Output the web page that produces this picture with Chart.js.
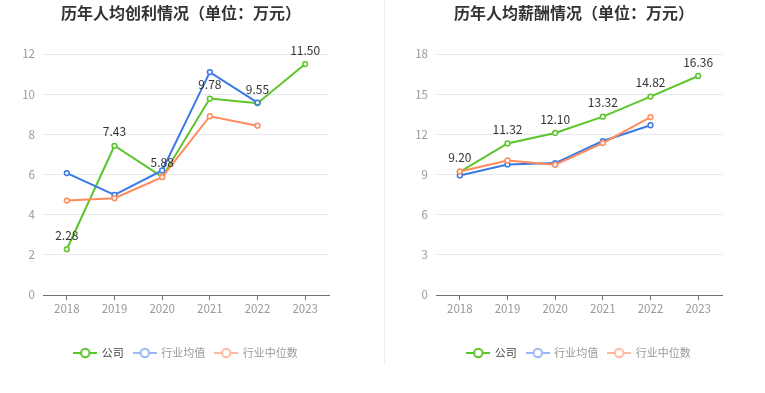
<!DOCTYPE html>
<html>
<head>
<meta charset="utf-8">
<script src="https://cdn.jsdelivr.net/npm/chart.js@4/dist/chart.umd.min.js"></script>
<style>
  html, body { margin: 0; padding: 0; background: #fff; }
  body { width: 765px; height: 393px; position: relative; overflow: hidden; font-family: "Noto Sans CJK SC", "Noto Sans", sans-serif; }
  .title { position: absolute; top: 0px; width: 300px; text-align: center; font-size: 16px; font-weight: bold; color: #333; line-height: 24px; white-space: nowrap; }
  .box { position: absolute; top: 0; width: 372px; height: 393px; }
  .divider { position: absolute; left: 384px; top: 0; width: 1px; height: 365px; background: #eeeeee; }
</style>
</head>
<body>
<div class="box" style="left:0"><canvas id="c1" width="372" height="393"></canvas></div>
<div class="box" style="left:393px"><canvas id="c2" width="372" height="393"></canvas></div>
<div class="divider"></div>
<div class="title" style="left:31px">历年人均创利情况（单位：万元）</div>
<div class="title" style="left:424px">历年人均薪酬情况（单位：万元）</div>
<script>
const years = ['2018', '2019', '2020', '2021', '2022', '2023'];
const seriesNames = ['公司', '行业均值', '行业中位数'];

// 历年人均创利
const profitCompany = [2.28, 7.43, 5.88, 9.78, 9.55, 11.50];
const profitIndustryAvg = [6.07, 4.98, 6.20, 11.10, 9.58, null];
const profitIndustryMedian = [4.70, 4.82, 5.87, 8.90, 8.43, null];
const profitTicks = { min: 0, max: 12, step: 2 };

// 历年人均薪酬
const salaryCompany = [9.20, 11.32, 12.10, 13.32, 14.82, 16.36];
const salaryIndustryAvg = [8.93, 9.75, 9.85, 11.50, 12.68, null];
const salaryIndustryMedian = [9.23, 10.05, 9.73, 11.35, 13.28, null];
const salaryTicks = { min: 0, max: 18, step: 3 };

const lineColors = ['#5cc52a', '#3b7ae6', '#ff8a5b'];
const legendColors = ['#5cc52a', '#9ab9f3', '#ffbba0'];
const legendTextColors = ['#444444', '#999999', '#999999'];

Chart.defaults.font.family = '"Noto Sans CJK SC", "Noto Sans", sans-serif';

function makeIcon(color) {
  const c = document.createElement('canvas');
  c.width = 24; c.height = 12;
  const g = c.getContext('2d');
  g.strokeStyle = color; g.lineWidth = 2;
  g.beginPath(); g.moveTo(0, 6); g.lineTo(24, 6); g.stroke();
  g.fillStyle = '#fff';
  g.beginPath(); g.arc(12, 6, 4.2, 0, Math.PI * 2); g.fill(); g.stroke();
  return c;
}
const icons = legendColors.map(makeIcon);

const labelPlugin = {
  id: 'valueLabels',
  afterDatasetsDraw(chart) {
    const ctx = chart.ctx;
    const meta = chart.getDatasetMeta(0);
    const data = chart.data.datasets[0].data;
    ctx.save();
    ctx.font = '12px "Noto Sans CJK SC", "Noto Sans", sans-serif';
    ctx.fillStyle = '#333';
    ctx.textAlign = 'center';
    ctx.textBaseline = 'middle';
    meta.data.forEach((pt, i) => {
      if (data[i] == null) return;
      ctx.fillText(data[i].toFixed(2), pt.x, pt.y - 14);
    });
    ctx.restore();
  }
};

function build(id, company, avg, median, t) {
  const sets = [company, avg, median];
  new Chart(document.getElementById(id), {
    type: 'line',
    data: {
      labels: years,
      datasets: sets.map((d, i) => ({
        label: seriesNames[i],
        data: d,
        borderColor: lineColors[i],
        backgroundColor: '#fff',
        pointBackgroundColor: '#fff',
        pointBorderColor: lineColors[i],
        pointRadius: 2.4,
        pointBorderWidth: 1.5,
        borderWidth: 2,
        tension: 0,
        spanGaps: false,
        order: 3 - i
      }))
    },
    options: {
      responsive: false,
      animation: false,
      layout: { padding: { top: 54, bottom: 24.5, left: 0, right: 0 } },
      plugins: {
        title: { display: false },
        tooltip: { enabled: false },
        legend: {
          position: 'bottom',
          labels: {
            usePointStyle: true,
            pointStyleWidth: 22,
            padding: 10,
            font: { size: 11 },
            generateLabels(chart) {
              return chart.data.datasets.map((ds, i) => ({
                text: ds.label,
                fontColor: legendTextColors[i],
                pointStyle: icons[i],
                fillStyle: 'transparent',
                strokeStyle: 'transparent',
                lineWidth: 0,
                hidden: false,
                datasetIndex: i
              }));
            }
          }
        }
      },
      scales: {
        x: {
          type: 'category',
          offset: true,
          grid: { offset: false, drawOnChartArea: false, drawTicks: true, tickLength: 5, color: '#6e7079' },
          border: { display: true, color: '#6e7079', width: 1 },
          ticks: { color: '#999', font: { size: 11.5 }, padding: 2, maxRotation: 0 },
          afterFit(s) { s.height = 42.5; }
        },
        y: {
          min: t.min, max: t.max,
          ticks: { stepSize: t.step, color: '#999', font: { size: 11.5 }, padding: 8 },
          grid: { color: '#e6e9f1', drawTicks: false, lineWidth: 1 },
          border: { display: false },
          afterFit(s) { s.width = 43; }
        },
        y2: {
          position: 'right',
          min: 0, max: 1,
          ticks: { display: false },
          grid: { display: false },
          border: { display: false },
          afterFit(s) { s.width = 43; }
        }
      }
    },
    plugins: [labelPlugin]
  });
}

build('c1', profitCompany, profitIndustryAvg, profitIndustryMedian, profitTicks);
build('c2', salaryCompany, salaryIndustryAvg, salaryIndustryMedian, salaryTicks);
</script>
</body>
</html>
